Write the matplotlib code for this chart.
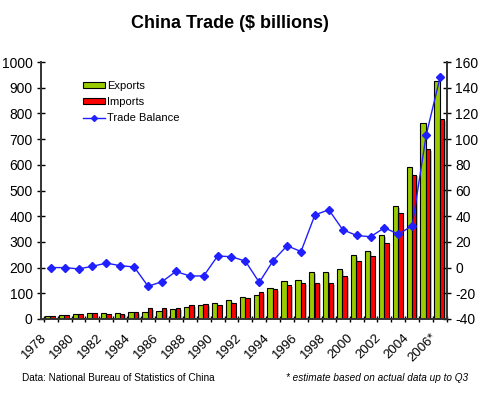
import numpy as np
import matplotlib
matplotlib.use("Agg")
import matplotlib.pyplot as plt
import matplotlib.patheffects as pe
from matplotlib.lines import Line2D
from matplotlib.patches import Patch

plt.rcParams['font.family'] = ['Liberation Sans', 'DejaVu Sans']
plt.rcParams['axes.unicode_minus'] = False

# donnees ($ milliards)
years = list(range(1978, 2007))
year_labels = [str(y) if y < 2006 else "2006*" for y in years]
exports = [10, 14, 18, 22, 22, 22, 26, 27, 31, 39, 48, 53, 62, 72, 85, 92,
           121, 149, 151, 183, 184, 195, 249, 266, 326, 438, 593, 762, 925]
imports = [11, 16, 20, 22, 19, 21, 27, 42, 43, 43, 55, 59, 53, 64, 81, 104,
           116, 132, 139, 142, 140, 166, 225, 244, 295, 413, 561, 660, 777]
balance = [0, 0, -1, 1, 3.5, 1.5, 0.5, -14.5, -11, -3, -6.5, -6.5, 9, 8.5, 5, -11.5,
           5.5, 17, 12.5, 41, 45, 29.5, 25, 24, 31, 26, 32.5, 103, 148]

green = "#99CC00"
red = "#FF0000"
blue = "#1F1FFF"

fig = plt.figure(figsize=(4.8, 3.95), dpi=100)
ax = fig.add_axes([41/480, 1-319/395, 406/480, 257/395])
ax2 = ax.twinx()

x = np.arange(len(years))
w = 0.38
shadow = [pe.SimplePatchShadow(offset=(1.2, -1.2), shadow_rgbFace="#999999", alpha=0.6), pe.Normal()]
b1 = ax.bar(x - w/2 - 0.03, exports, width=w, color=green, edgecolor="black", linewidth=0.8)
b2 = ax.bar(x + w/2 - 0.05, imports, width=w*0.85, color=red, edgecolor="black", linewidth=0.8)
for b in list(b1) + list(b2):
    b.set_path_effects(shadow)

ax2.plot(x, balance, color=blue, linewidth=1, marker="D", markersize=4.5, zorder=5)

ax.set_xlim(-0.5, len(years) - 0.5)
ax.set_ylim(0, 1000)
ax2.set_ylim(-40, 160)
ax.set_yticks(range(0, 1001, 100))
ax2.set_yticks(range(-40, 161, 20))

# ticks entre les categories, etiquettes une annee sur deux (decalees a gauche)
ax.set_xticks(np.arange(len(years) + 1) - 0.5, minor=True)
ax.set_xticks(x[::2] - 0.7)
ax.set_xticklabels(year_labels[::2], rotation=45, ha="right", va="top",
                   rotation_mode="anchor", fontsize=9.5)
ax.tick_params(axis="x", which="major", length=0, pad=9)
ax.tick_params(axis="x", which="minor", length=5, direction="inout", width=1)
ax.tick_params(axis="y", length=6, direction="inout", width=1, labelsize=10, pad=3)
ax2.tick_params(axis="y", length=6, direction="inout", width=1, labelsize=10, pad=3)

for a in (ax, ax2):
    a.spines["top"].set_visible(False)
    for s in ("left", "right", "bottom"):
        a.spines[s].set_color("#333333")
        a.spines[s].set_linewidth(1.2)
ax.set_zorder(ax2.get_zorder() - 1)
ax2.patch.set_visible(False)

handles = [Patch(facecolor=green, edgecolor="black", linewidth=0.8),
           Patch(facecolor=red, edgecolor="black", linewidth=0.8),
           Line2D([], [], color=blue, linewidth=1, marker="D", markersize=3)]
ax2.legend(handles, ["Exports", "Imports", "Trade Balance"], loc="upper left",
           bbox_to_anchor=(0.08, 0.965), frameon=False, fontsize=8,
           handlelength=1.9, handleheight=0.45, handletextpad=0.25, labelspacing=0.55)

fig.text(0.48, 1 - 23/395, "China Trade ($ billions)", ha="center", va="center",
         fontsize=13, fontweight="bold")
fig.text(22/480, 1 - 378/395, "Data: National Bureau of Statistics of China",
         ha="left", va="center", fontsize=7.2)
fig.text(468/480, 1 - 378/395, "* estimate based on actual data up to Q3",
         ha="right", va="center", fontsize=7.2, style="italic")

fig.savefig("out.png", dpi=100)
